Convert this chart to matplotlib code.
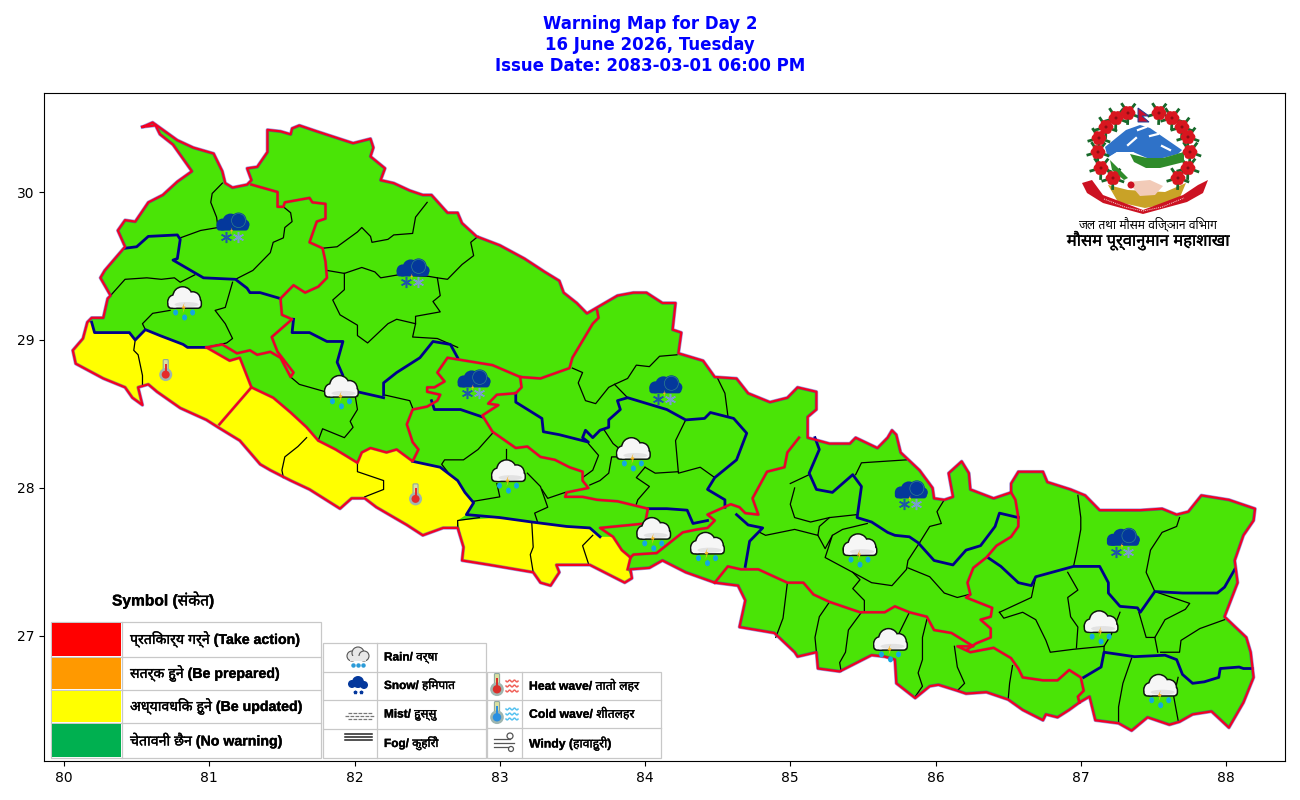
import matplotlib
matplotlib.use("Agg")
import matplotlib.pyplot as plt
import matplotlib.patheffects as pe
from matplotlib.patches import Polygon, Rectangle, Ellipse, Circle, FancyBboxPatch
import numpy as np

# map geometry in lon/lat
NEPAL = [(80.54,30.44),(80.61,30.47),(80.78,30.35),(80.89,30.30),(81.03,30.26),(81.09,30.14),(81.11,30.06),(81.16,30.03),
(81.26,30.05),(81.29,30.08),(81.26,30.16),(81.33,30.17),(81.40,30.27),(81.40,30.42),(81.49,30.41),(81.56,30.39),(81.57,30.43),
(81.62,30.45),(81.74,30.41),(81.99,30.33),(82.11,30.36),(82.13,30.30),(82.11,30.24),(82.21,30.16),(82.18,30.08),(82.27,30.06),
(82.38,30.01),(82.47,29.98),(82.53,29.98),(82.64,29.86),(82.71,29.86),(82.74,29.79),(82.84,29.70),(83.00,29.64),(83.17,29.55),
(83.31,29.46),(83.41,29.40),(83.44,29.32),(83.53,29.25),(83.60,29.18),(83.67,29.22),(83.81,29.30),(83.92,29.32),(84.01,29.32),
(84.12,29.25),(84.21,29.25),(84.19,29.07),(84.25,29.05),(84.23,28.91),(84.40,28.86),(84.48,28.75),(84.63,28.74),(84.71,28.64),
(84.86,28.58),(84.98,28.61),(85.05,28.68),(85.18,28.65),(85.18,28.53),(85.12,28.48),(85.12,28.34),(85.27,28.30),(85.41,28.30),
(85.45,28.34),(85.60,28.27),(85.67,28.34),(85.70,28.39),(85.73,28.36),(85.76,28.24),(85.89,28.12),(85.98,28.00),(85.99,27.93),
(86.06,27.92),(86.12,27.94),(86.09,28.10),(86.18,28.18),(86.23,28.10),(86.24,27.99),(86.40,27.93),(86.52,27.97),(86.52,28.03),
(86.57,28.11),(86.74,28.11),(86.77,28.04),(86.93,27.99),(87.03,27.95),(87.13,27.85),(87.24,27.85),(87.41,27.85),(87.56,27.86),
(87.66,27.82),(87.74,27.84),(87.83,27.95),(88.02,27.92),(88.20,27.86),(88.19,27.78),(88.12,27.68),(88.06,27.51),(88.08,27.36),
(87.99,27.13),(88.14,26.99),(88.17,26.89),(88.19,26.72),(88.12,26.55),(88.02,26.38),(87.90,26.49),(87.77,26.47),(87.68,26.42),
(87.61,26.40),(87.46,26.45),(87.35,26.36),(87.26,26.41),(87.10,26.43),(87.06,26.59),(86.99,26.55),(86.92,26.50),(86.84,26.45),
(86.76,26.47),(86.74,26.43),(86.60,26.50),(86.50,26.57),(86.35,26.62),(86.21,26.61),(86.15,26.63),(86.02,26.67),(85.96,26.66),
(85.86,26.58),(85.73,26.68),(85.72,26.84),(85.65,26.86),(85.56,26.87),(85.34,26.76),(85.19,26.78),(85.18,26.89),(85.05,26.86),
(85.03,26.89),(84.89,27.02),(84.65,27.06),(84.69,27.24),(84.64,27.34),(84.48,27.36),(84.28,27.43),(84.12,27.51),(84.03,27.46),
(83.90,27.45),(83.91,27.39),(83.86,27.36),(83.62,27.48),(83.39,27.48),(83.41,27.43),(83.35,27.34),(83.28,27.36),(83.23,27.43),
(82.93,27.48),(82.74,27.51),(82.75,27.60),(82.71,27.73),(82.61,27.73),(82.47,27.68),(82.36,27.75),(82.15,27.87),(82.07,27.93),
(81.98,27.93),(81.90,27.86),(81.69,27.99),(81.56,28.05),(81.42,28.12),(81.35,28.16),(81.21,28.32),(81.06,28.41),(80.98,28.46),
(80.80,28.54),(80.64,28.65),(80.58,28.70),(80.51,28.68),(80.54,28.56),(80.47,28.61),(80.42,28.68),(80.27,28.74),(80.08,28.84),
(80.06,28.93),(80.13,29.01),(80.16,29.12),(80.19,29.15),(80.27,29.15),(80.30,29.28),(80.32,29.30),(80.25,29.42),(80.28,29.47),
(80.35,29.55),(80.42,29.63),(80.37,29.74),(80.42,29.81),(80.49,29.80),(80.58,29.93),(80.68,29.98),(80.78,30.07),(80.88,30.14),
(80.75,30.32),(80.66,30.39),(80.63,30.45)]

YELLOW_WEST = [(80.19,29.12),(80.21,29.05),(80.45,29.05),(80.49,29.00),(80.56,29.07),(80.66,29.03),(80.82,28.97),(80.85,28.95),
(80.98,28.95),(81.14,28.86),(81.21,28.88),(81.29,28.68),(81.07,28.43),(81.06,28.41),(80.98,28.46),(80.80,28.54),(80.64,28.65),
(80.58,28.70),(80.51,28.68),(80.54,28.56),(80.47,28.61),(80.42,28.68),(80.27,28.74),(80.08,28.84),(80.06,28.93),(80.13,29.01),(80.16,29.12)]
YELLOW_MID = [(81.29,28.68),(81.44,28.61),(81.56,28.51),(81.67,28.41),(81.75,28.32),(81.87,28.26),(82.02,28.17),(82.05,28.24),
(82.11,28.27),(82.22,28.24),(82.29,28.26),(82.40,28.18),(82.59,28.14),(82.71,28.05),(82.76,27.97),(82.82,27.90),(82.77,27.82),
(82.71,27.78),(82.71,27.73),(82.61,27.73),(82.47,27.68),(82.36,27.75),(82.15,27.87),(82.07,27.93),(81.98,27.93),(81.90,27.86),
(81.69,27.99),(81.56,28.05),(81.42,28.12),(81.35,28.16),(81.21,28.32),(81.06,28.41),(81.07,28.43)]
YELLOW_EAST = [(82.71,27.78),(83.00,27.80),(83.22,27.77),(83.46,27.74),(83.62,27.73),(83.69,27.67),(83.78,27.67),(83.84,27.58),
(83.90,27.53),(83.88,27.45),(83.91,27.39),(83.86,27.36),(83.62,27.48),(83.39,27.48),(83.41,27.43),(83.35,27.34),(83.28,27.36),
(83.23,27.43),(82.93,27.48),(82.74,27.51),(82.75,27.60)]

RED_LINES = [
[(81.29,30.05),(81.47,30.00),(81.47,29.90),(81.51,29.90),(81.52,29.93),(81.69,29.96),(81.71,29.93),(81.80,29.92),(81.80,29.82),
 (81.74,29.80),(81.69,29.66),(81.78,29.62),(81.80,29.53),(81.81,29.42),(81.75,29.36),(81.66,29.32),(81.58,29.37),(81.49,29.28),
 (81.50,29.17),(81.57,29.14),(81.43,29.02),(81.47,28.92),(81.58,28.78),(81.56,28.75),(81.49,28.88),(81.42,28.92),(81.33,28.90),
 (81.28,28.93),(81.19,28.91),(81.09,28.97),(80.98,28.95)],
[(80.98,28.95),(81.14,28.86),(81.21,28.88),(81.29,28.68),(81.07,28.43)],
[(81.29,28.68),(81.44,28.61),(81.56,28.51),(81.67,28.41),(81.75,28.32),(81.87,28.26),(82.02,28.17),(82.05,28.24),(82.11,28.27),
 (82.22,28.24),(82.29,28.26),(82.40,28.18),(82.44,28.26),(82.40,28.31),(82.36,28.43),(82.40,28.53),(82.50,28.55),(82.57,28.59),
 (82.59,28.63),(82.50,28.65),(82.50,28.68),(82.55,28.68),(82.62,28.72),(82.57,28.78),(82.64,28.88),(82.95,28.83),(83.14,28.75),
 (83.28,28.74),(83.48,28.81),(83.50,28.88),(83.64,29.11),(83.68,29.15),(83.67,29.20)],
[(83.14,28.75),(83.15,28.68),(83.11,28.64),(82.98,28.63),(82.92,28.57),(82.99,28.56),(82.88,28.49),(82.95,28.38),(83.11,28.27),
 (83.19,28.28),(83.28,28.21),(83.38,28.19),(83.48,28.14),(83.57,28.11),(83.57,28.05),(83.61,28.00),(83.46,27.97),(83.45,27.94),
 (83.57,27.94),(83.67,27.92),(83.81,27.91),(84.02,27.86),(84.00,27.76),(83.90,27.75),(83.69,27.73),(83.78,27.67),(83.84,27.58),
 (83.90,27.53),(83.88,27.45)],
[(83.90,27.53),(83.92,27.55),(84.08,27.56),(84.17,27.63),(84.26,27.70),(84.36,27.72),(84.43,27.73),(84.48,27.78),(84.43,27.82),
 (84.59,27.89),(84.65,27.87),(84.69,27.83),(84.78,27.82),(84.74,27.93),(84.84,28.11),(84.96,28.14),(84.98,28.24),(85.06,28.34)],
[(84.48,27.36),(84.57,27.47),(84.66,27.45),(84.78,27.45),(84.98,27.36),(85.09,27.36),(85.16,27.28),(85.27,27.23),(85.48,27.16),
 (85.65,27.16),(85.72,27.20),(85.82,27.16),(85.94,27.13),(85.99,27.04),(86.11,27.02),(86.26,26.93),(86.15,26.93),(86.24,26.89),
 (86.40,26.92),(86.52,26.85),(86.57,26.78),(86.60,26.72),(86.74,26.70),(86.84,26.70),(86.92,26.77),(87.00,26.72),(87.02,26.63),
 (86.98,26.59),(86.99,26.55)],
[(86.52,27.97),(86.55,27.92),(86.57,27.80),(86.57,27.74),(86.52,27.67),(86.42,27.61),(86.35,27.53),(86.26,27.46),(86.22,27.36),
 (86.24,27.28),(86.21,27.26),(86.39,27.19),(86.38,27.13),(86.31,27.11),(86.38,27.05),(86.38,26.99),(86.28,26.95),(86.22,26.91)],
]

BLUE_LINES = [
[(88.18,26.78),(88.12,26.78),(88.09,26.79),(87.96,26.78),(87.95,26.72),(87.85,26.69),(87.77,26.68),(87.70,26.74),(87.66,26.84),
 (87.58,26.87),(87.37,26.86),(87.16,26.89),(87.14,26.79),(87.02,26.72)],
[(88.06,27.45),(87.99,27.33),(87.94,27.29),(87.70,27.29),(87.51,27.30),(87.41,27.16),(87.39,27.19),(87.27,27.20),(87.19,27.29),
 (87.19,27.36),(87.13,27.47),(86.95,27.47),(86.69,27.40),(86.66,27.34),(86.57,27.36),(86.45,27.47),(86.36,27.53)],
[(86.57,27.80),(86.44,27.83),(86.41,27.74),(86.31,27.61),(86.21,27.58),(86.12,27.48),(85.99,27.51),(85.88,27.63),(85.82,27.67),
 (85.72,27.68),(85.67,27.70),(85.56,27.77),(85.46,27.80),(85.49,28.01),(85.43,28.09),(85.29,27.97),(85.18,27.99),(85.13,28.10),
 (85.20,28.26),(85.17,28.34)],
[(84.63,27.82),(84.71,27.75),(84.81,27.73),(84.72,27.64),(84.69,27.47)],
[(84.02,27.86),(84.15,27.86),(84.29,27.85),(84.33,27.76),(84.43,27.78)],
[(84.55,27.87),(84.55,27.92),(84.43,27.99),(84.48,28.07),(84.63,28.19),(84.70,28.37),(84.61,28.47),(84.45,28.51),(84.41,28.47),
 (84.28,28.46),(84.15,28.53),(83.88,28.61),(83.81,28.59),(83.83,28.53),(83.75,28.46),(83.75,28.41),(83.69,28.39),(83.64,28.34),
 (83.59,28.39),(83.57,28.34),(83.61,28.31),(83.41,28.36),(83.30,28.38),(83.29,28.47),(83.11,28.58),(83.11,28.64)],
[(82.20,28.63),(82.20,28.71),(82.29,28.78),(82.45,28.88),(82.54,28.99),(82.66,28.97),(82.71,28.88)],
[(81.58,29.14),(81.57,29.05),(81.69,29.05),(81.81,28.99),(81.92,28.99),(81.88,28.85),(81.92,28.76),(81.88,28.74),(82.02,28.65),(82.20,28.61)],
[(80.19,29.12),(80.21,29.05),(80.45,29.05),(80.49,29.00),(80.56,29.07),(80.66,29.03),(80.82,28.97),(80.85,28.95),(80.98,28.95)],
[(80.42,29.62),(80.50,29.63),(80.58,29.70),(80.78,29.71),(80.80,29.68),(80.78,29.55),(80.75,29.54),(80.89,29.46),(80.96,29.42),
 (81.18,29.41),(81.26,29.35),(81.28,29.32),(81.35,29.32),(81.49,29.28)],
[(82.53,28.59),(82.55,28.53),(82.73,28.53),(82.88,28.48)],
[(82.40,28.18),(82.59,28.14),(82.71,28.05),(82.76,27.97),(82.82,27.90),(82.77,27.82),(83.00,27.80),(83.22,27.77),(83.46,27.74),(83.62,27.73),(83.69,27.67)],
]

BLACK_LINES = [
[(81.09,30.06),(81.02,29.99),(81.01,29.93),(81.05,29.83),(81.06,29.76)],
[(80.80,29.69),(80.94,29.74),(81.06,29.76)],
[(81.18,29.41),(81.30,29.47),(81.42,29.59),(81.44,29.66),(81.51,29.69),(81.52,29.76),(81.57,29.80),(81.56,29.86),(81.51,29.90)],
[(81.78,29.62),(81.88,29.63),(82.02,29.73),(82.05,29.76),(82.11,29.70),(82.12,29.66),(82.23,29.68),(82.27,29.71),(82.40,29.72),(82.42,29.83),(82.46,29.88),(82.50,29.93)],
[(81.81,29.47),(81.93,29.45),(82.05,29.49),(82.14,29.46),(82.18,29.42),(82.30,29.44),(82.51,29.43),(82.57,29.42),(82.64,29.41),(82.74,29.51),(82.82,29.57),(82.80,29.66),(82.85,29.70)],
[(81.93,29.45),(81.93,29.34),(81.85,29.27),(81.90,29.17),(82.02,29.10),(82.02,29.03),(82.09,28.98),(82.23,29.11),(82.29,29.14),(82.42,29.11),(82.40,29.02),(82.57,29.01),(82.71,28.95)],
[(82.57,29.42),(82.59,29.30),(82.54,29.26),(82.59,29.19),(82.42,29.16),(82.42,29.11)],
[(80.32,29.30),(80.42,29.41),(80.57,29.42),(80.67,29.41),(80.76,29.42),(80.80,29.39),(80.90,29.44)],
[(80.56,29.07),(80.54,29.11),(80.61,29.18),(80.73,29.20)],
[(81.16,29.39),(81.11,29.22),(81.04,29.20),(81.11,29.11),(81.16,29.01),(81.12,28.98),(80.98,28.95)],
[(80.49,29.00),(80.48,28.93),(80.51,28.90),(80.54,28.76),(80.54,28.70)],
[(81.56,28.75),(81.62,28.70),(81.80,28.65)],
[(82.00,28.65),(82.02,28.53),(81.97,28.45),(81.99,28.41),(81.93,28.34),(81.78,28.40),(81.75,28.32)],
[(82.20,28.63),(82.38,28.59),(82.40,28.54)],
[(84.50,28.74),(84.55,28.64),(84.57,28.49)],
[(83.50,28.81),(83.57,28.78),(83.54,28.71),(83.59,28.59),(83.66,28.57),(83.75,28.68),(83.79,28.70),(83.88,28.74),(83.94,28.83),(84.03,28.82),(84.10,28.89),(84.22,28.90)],
[(83.79,28.70),(83.88,28.61)],
[(83.72,28.39),(83.78,28.30),(83.83,28.26)],
[(84.28,28.46),(84.21,28.32),(84.23,28.10),(84.38,28.14),(84.48,28.07)],
[(84.00,28.14),(84.07,28.10),(84.23,28.11)],
[(83.83,28.21),(83.77,28.21),(83.75,28.10),(83.69,28.05),(83.62,28.02)],
[(84.00,28.14),(83.94,28.07),(84.03,28.01),(83.95,27.92),(83.94,27.89)],
[(83.61,28.30),(83.68,28.22),(83.64,28.12),(83.57,28.07)],
[(82.95,28.37),(82.85,28.26),(82.75,28.19),(82.62,28.19),(82.60,28.16),(82.64,28.11)],
[(83.04,28.26),(83.04,28.18)],
[(83.19,28.10),(83.28,28.01),(83.33,27.87),(83.24,27.83),(83.26,27.77)],
[(82.98,28.03),(83.00,27.94),(82.82,27.91)],
[(83.29,27.99),(83.33,27.93),(83.45,27.97)],
[(83.22,27.77),(83.23,27.60),(83.21,27.55),(83.23,27.43)],
[(83.64,27.68),(83.57,27.61),(83.61,27.49)],
[(81.67,28.34),(81.61,28.28),(81.52,28.21),(81.50,28.12),(81.51,28.07)],
[(82.02,28.17),(82.02,28.11),(82.20,28.05),(82.20,27.99),(82.07,27.94)],
[(82.71,27.73),(82.71,27.78),(82.86,27.80)],
[(85.00,28.03),(85.13,28.09)],
[(85.03,28.00),(85.00,27.89),(85.03,27.80),(85.14,27.77),(85.27,27.80),(85.46,27.82)],
[(85.45,28.09),(85.49,28.17),(85.80,28.19)],
[(84.79,27.70),(84.83,27.68),(85.03,27.72),(85.19,27.68),(85.20,27.74),(85.27,27.80)],
[(85.19,27.68),(85.24,27.59),(85.29,27.68),(85.24,27.53),(85.43,27.43),(85.48,27.38),(85.43,27.32),(85.51,27.24),(85.51,27.16)],
[(85.29,27.68),(85.36,27.72),(85.53,27.76)],
[(85.43,27.43),(85.56,27.36),(85.70,27.34),(85.80,27.45),(85.81,27.51),(85.89,27.63)],
[(85.81,27.46),(85.96,27.40),(86.06,27.29),(86.15,27.26),(86.23,27.28)],
[(85.89,27.63),(85.96,27.74),(86.04,27.76),(86.01,27.84),(86.06,27.92)],
[(84.98,27.36),(84.95,27.12),(84.90,26.99)],
[(85.27,27.23),(85.20,27.13),(85.17,26.99),(85.18,26.89)],
[(85.49,27.16),(85.40,27.04),(85.38,26.89),(85.34,26.82),(85.35,26.76)],
[(85.82,27.16),(85.75,27.02)],
[(85.94,27.11),(85.91,26.99),(85.91,26.84),(85.88,26.75),(85.91,26.66),(85.86,26.59)],
[(86.13,26.93),(86.15,26.79),(86.20,26.68),(86.15,26.63)],
[(86.53,26.80),(86.51,26.68),(86.50,26.57)],
[(86.44,27.16),(86.47,27.12),(86.60,27.16),(86.69,27.11),(86.76,26.97),(86.79,26.89),(86.95,26.91),(87.16,26.93),(87.16,26.89)],
[(86.44,27.16),(86.66,27.26),(86.69,27.40)],
[(86.91,27.43),(86.98,27.31),(86.91,27.26),(86.93,27.13),(86.98,27.06),(86.97,26.92)],
[(86.98,27.95),(87.00,27.80),(87.00,27.72),(86.97,27.56),(86.95,27.47)],
[(87.68,27.80),(87.66,27.74),(87.56,27.70),(87.48,27.58),(87.45,27.43),(87.51,27.30)],
[(87.51,27.30),(87.75,27.22),(87.72,27.18),(87.58,27.11),(87.51,26.99)],
[(87.40,27.16),(87.45,26.99),(87.51,26.99),(87.53,26.89)],
[(87.27,27.16),(87.21,27.01),(87.16,26.93)],
[(87.99,27.11),(87.82,27.05),(87.69,26.97),(87.68,26.89),(87.55,26.89)],
[(87.35,26.85),(87.29,26.68),(87.26,26.52),(87.26,26.42)],
[(87.67,26.72),(87.64,26.59),(87.67,26.43)],
]

SNOW_POINTS = [(81.16,29.78),(82.40,29.47),(82.82,28.72),(84.14,28.68),(85.83,27.97),(87.29,27.65)]
RAIN_POINTS = [(80.83,29.26),(81.91,28.66),(83.06,28.09),(83.92,28.24),(84.06,27.70),(84.43,27.60),(85.48,27.59),(85.69,26.95),(87.14,27.07),(87.55,26.64)]
HEAT_POINTS = [(80.70,28.80),(82.42,27.96)]

TITLE = "Warning Map for Day 2\n16 June 2026, Tuesday\nIssue Date: 2083-03-01 06:00 PM"
X_TICKS = [80, 81, 82, 83, 84, 85, 86, 87, 88]
Y_TICKS = [27, 28, 29, 30]
WARNING_LABELS = ["प्रतिकार्य गर्ने (Take action)", "सतर्क हुने (Be prepared)", "अध्यावधिक हुने (Be updated)", "चेतावनी छैन (No warning)"]
WARNING_COLORS = ["#ff0000", "#ff9900", "#ffff00", "#00b050"]
WEATHER_LABELS = ["Rain/ वर्षा", "Snow/ हिमपात", "Mist/ हुस्सु", "Fog/ कुहिरो"]
HAZARD_LABELS = ["Heat wave/ तातो लहर", "Cold wave/ शीतलहर", "Windy (हावाहुरी)"]

GREEN = "#4ae406"
YELLOW = "#ffff00"
RED = "#f20024"
HALO = "#3b2fc0"
NAVY = "#00008b"
GRID = "#c8c8c8"
HINDI = ["Liberation Sans", "Noto Sans", "Noto Sans Devanagari", "DejaVu Sans"]
HEAVY = [pe.withStroke(linewidth=0.25, foreground="black")]

fig = plt.figure(figsize=(13, 8), dpi=100)
ax = fig.add_axes([44/1300, 39/800, 1241/1300, 668/800])
ax.set_xlim(79.862, 88.406)
ax.set_ylim(26.155, 30.669)
ax.set_xticks(X_TICKS)
ax.set_yticks(Y_TICKS)
ax.tick_params(labelsize=10)
fig.text(650/1300, 1-45/800, TITLE, color="blue", fontsize=12, fontweight="bold", ha="center", va="center", linespacing=1.2)

ax.add_patch(Polygon(NEPAL, closed=True, fc=GREEN, ec="none", zorder=1))
for poly in (YELLOW_WEST, YELLOW_MID, YELLOW_EAST):
    ax.add_patch(Polygon(poly, closed=True, fc=YELLOW, ec="none", zorder=2))

for line in BLACK_LINES:
    xs, ys = zip(*line)
    ax.plot(xs, ys, color="black", lw=0.9, zorder=3)
for line in BLUE_LINES:
    xs, ys = zip(*line)
    ax.plot(xs, ys, color=NAVY, lw=2.0, zorder=4)
for line in RED_LINES:
    xs, ys = zip(*line)
    ax.plot(xs, ys, color=HALO, lw=2.3, zorder=5, alpha=0.35)
    ax.plot(xs, ys, color=RED, lw=1.7, zorder=6)
xs, ys = zip(*(NEPAL + NEPAL[:1]))
ax.plot(xs, ys, color=HALO, lw=2.5, zorder=5, alpha=0.5)
ax.plot(xs, ys, color=RED, lw=1.6, zorder=6)

# overlay in figure pixels for icons, legend and emblem
ov = fig.add_axes([0, 0, 1, 1], zorder=10)
ov.set_xlim(0, 1300)
ov.set_ylim(800, 0)
ov.axis("off")

def to_px(lon, lat):
    return ov.transData.inverted().transform(ax.transData.transform((lon, lat)))

def bolt(x, y, s=1.0):
    ov.add_patch(Polygon([(x+1*s, y-5*s), (x-2*s, y+1*s), (x, y+1*s), (x-1*s, y+6*s), (x+2*s, y-1*s), (x, y-1*s)], fc="#f5b31a", ec="none", zorder=13))

def cloud_shape(x, y, bumps, grow, color, z):
    for dx, dy, r in bumps:
        ov.add_patch(Circle((x+dx, y+dy), r+grow, fc=color, ec="none", zorder=z))
    ov.add_patch(FancyBboxPatch((x-13, y+1), 26, 2, boxstyle="round,pad=%.1f" % (3+grow), fc=color, ec="none", zorder=z))

def rain_cloud(x, y):
    bumps = [(-10, 0, 6), (-2, -5, 9), (8, -2, 7)]
    cloud_shape(x, y, bumps, 1.5, "#0d160d", 11)
    cloud_shape(x, y, bumps, 0, "#f6f6f6", 12)
    ov.add_patch(Ellipse((x+2, y+3), 24, 5, fc="#e2e2e2", ec="none", zorder=12))
    bolt(x-1, y+6)
    for dx, dy in [(-9, 11), (0, 16), (8, 11)]:
        ov.add_patch(Ellipse((x+dx, y+dy), 5, 6, fc="#12a8e0", ec="none", zorder=12))

def snow_cloud(x, y):
    bumps = [(-10, 0, 6), (-2, -3, 8), (6, -4, 8), (12, 0, 5)]
    cloud_shape(x, y, bumps, 0, "#04389c", 11)
    ov.add_patch(Circle((x+6, y-4), 7, fc="none", ec="#2f7f8a", lw=0.5, zorder=12))
    bolt(x-1, y+6, 0.7)
    ov.plot([x-7], [y+12], marker=(6, 2, 0), ms=8, mew=1.1, color="#1f56a8", zorder=12)
    ov.plot([x+5], [y+12], marker=(6, 2, 0), ms=8, mew=1.1, color="#7a9cd0", zorder=12)

def thermometer(x, y, c, s=1.0):
    ov.add_patch(FancyBboxPatch((x-1.5*s, y-9*s), 3*s, 12*s, boxstyle="round,pad=1", fc="#d9dfa0", ec="#8fa8a0", lw=0.8, zorder=12))
    ov.add_patch(Circle((x, y+5*s), 6.5*s, fc="#9fb6b0", ec="none", zorder=12))
    ov.add_patch(Circle((x, y+5*s), 4*s, fc=c, ec="none", zorder=13))
    ov.add_patch(Rectangle((x-1*s, y-6*s), 2*s, 11*s, fc=c, ec="none", zorder=13))

def waves(x, y, c):
    for dy in (-5, 0, 5):
        t = np.linspace(0, 12, 25)
        ov.plot(x+t, y+dy+0.9*np.sin(t*1.3), color=c, lw=1.1, zorder=13)

for lon, lat in SNOW_POINTS:
    snow_cloud(*to_px(lon, lat))
for lon, lat in RAIN_POINTS:
    rain_cloud(*to_px(lon, lat))
for lon, lat in HEAT_POINTS:
    thermometer(*to_px(lon, lat), "#e62a2a")

# legend tables
def table(x_cols, y_rows):
    ov.add_patch(Rectangle((x_cols[0], y_rows[0]), x_cols[-1]-x_cols[0], y_rows[-1]-y_rows[0], fc="white", ec=GRID, lw=0.9, zorder=11))
    for xc in x_cols[1:-1]:
        ov.plot([xc, xc], [y_rows[0], y_rows[-1]], color=GRID, lw=0.9, zorder=12)
    for yr in y_rows[1:-1]:
        ov.plot([x_cols[0], x_cols[-1]], [yr, yr], color=GRID, lw=0.9, zorder=12)

ov.text(112, 600, "Symbol (संकेत)", fontsize=11.2, fontweight="bold", family=HINDI, va="center", zorder=14, path_effects=HEAVY)
ys1 = [622, 657, 690, 723, 758]
table([51, 122, 321], ys1)
for i, lab in enumerate(WARNING_LABELS):
    ov.add_patch(Rectangle((52, ys1[i]+1), 69, ys1[i+1]-ys1[i]-2, fc=WARNING_COLORS[i], ec="none", zorder=13))
    ov.text(130, (ys1[i]+ys1[i+1])/2, lab, fontsize=10.2, fontweight="bold", family=HINDI, va="center", zorder=14, path_effects=HEAVY)
ys2 = [643, 672, 700, 729, 758]
table([323, 377, 486], ys2)
for i, lab in enumerate(WEATHER_LABELS):
    ov.text(384, (ys2[i]+ys2[i+1])/2, lab, fontsize=8.5, fontweight="bold", family=HINDI, va="center", zorder=14, path_effects=HEAVY)
ys3 = [672, 700, 728, 758]
table([487, 522, 661], ys3)
for i, lab in enumerate(HAZARD_LABELS):
    ov.text(529, (ys3[i]+ys3[i+1])/2, lab, fontsize=8.8, fontweight="bold", family=HINDI, va="center", zorder=14, path_effects=HEAVY)

# legend symbols
for dx, dy, r in [(-6, 0, 5), (0, -3, 6), (6, 0, 5)]:
    ov.add_patch(Circle((358+dx, 656+dy), r, fc="#e8e8e8", ec="#555555", lw=0.8, zorder=13))
ov.add_patch(Rectangle((350, 656), 16, 5, fc="#e8e8e8", ec="none", zorder=14))
for dx in (-5, 0, 5):
    ov.plot([358+dx], [665], marker="o", ms=2.2, color="#2c9bd8", zorder=14)
for dx, dy, r in [(-6, 0, 4), (0, -2, 6), (6, 1, 4)]:
    ov.add_patch(Circle((358+dx, 684+dy), r, fc="#04389c", ec="none", zorder=13))
ov.plot([355, 361], [692, 692], ls="none", marker="*", ms=2.5, color="#04389c", zorder=14)
for y0, x0, x1 in [(713, 348, 372), (716, 345, 375), (719, 348, 372)]:
    ov.plot([x0, x1], [y0, y0], color="#777777", lw=0.9, ls=(0, (3, 1)), zorder=13)
for y0 in (734, 737, 740):
    ov.plot([345, 372], [y0, y0], color="#222222", lw=1.1, zorder=13)
thermometer(497, 684, "#d9302a", 1.05)
waves(506, 686, "#f0625a")
thermometer(497, 712, "#2a8fe0", 1.05)
waves(506, 714, "#56c2f0")
for y0, x1 in [(739, 510), (743, 514), (747, 508)]:
    ov.plot([494, x1], [y0, y0], color="#555555", lw=0.9, zorder=13)
ov.add_patch(Circle((510, 736), 3, fc="none", ec="#555555", lw=0.9, zorder=13))
ov.add_patch(Circle((511, 749), 2.5, fc="none", ec="#555555", lw=0.9, zorder=13))

# emblem: wreath, mountain, hills, hands, ribbon, flag
ov.add_patch(Polygon([(1105, 147), (1126, 130), (1140, 125), (1150, 128), (1182, 150), (1178, 154), (1163, 158), (1147, 158), (1133, 152), (1117, 152), (1108, 158)], fc="#2f72c8", ec="none", zorder=11))
for x0, y0, x1, y1 in [(1128, 145, 1136, 138), (1138, 130, 1146, 127), (1150, 136, 1158, 134), (1162, 146, 1170, 150)]:
    ov.plot([x0, x1], [y0, y1], color="white", lw=1.6, zorder=12)
ov.add_patch(Polygon([(1107, 158), (1117, 152), (1133, 152), (1143, 160), (1133, 178), (1120, 172), (1112, 170)], fc="#ffffff", ec="none", zorder=11))
ov.add_patch(Polygon([(1130, 154), (1147, 158), (1163, 158), (1184, 152), (1184, 162), (1160, 168), (1146, 168), (1134, 162)], fc="#2f8b2a", ec="none", zorder=12))
ov.add_patch(Polygon([(1110, 160), (1118, 168), (1128, 178), (1124, 180), (1112, 170)], fc="#2f8b2a", ec="none", zorder=12))
ov.add_patch(Polygon([(1143, 168), (1164, 168), (1175, 182), (1150, 182)], fc="#ffffff", ec="none", zorder=11))
ov.add_patch(Polygon([(1108, 185), (1128, 190), (1165, 192), (1186, 183), (1178, 202), (1145, 208), (1118, 202)], fc="#c9a227", ec="none", zorder=11))
ov.add_patch(Polygon([(1128, 182), (1150, 180), (1163, 186), (1155, 195), (1140, 196)], fc="#f2cbb8", ec="none", zorder=12))
ov.add_patch(Circle((1131, 185), 3.5, fc="#cc1222", ec="none", zorder=13))
ov.add_patch(Polygon([(1082, 183), (1092, 180), (1103, 195), (1143, 210), (1183, 195), (1198, 185), (1208, 180), (1203, 193), (1187, 202), (1143, 214), (1103, 203), (1087, 193)], fc="#cc1222", ec="none", zorder=13))
ov.plot([1104, 1125, 1143, 1162, 1184], [199, 207, 211, 207, 198], color="#f5d8d8", lw=0.7, ls=(0, (1, 1)), zorder=14)
for x0, y0 in [(1128, 113), (1116, 118), (1106, 127), (1099, 138), (1098, 152), (1101, 168), (1113, 178),
               (1159, 113), (1172, 118), (1182, 127), (1188, 137), (1190, 152), (1188, 168), (1178, 178)]:
    for ang in (0, 72, 144, 216, 288):
        ov.plot([x0, x0+10.5*np.cos(np.radians(ang+20))], [y0, y0+10.5*np.sin(np.radians(ang+20))], color="#17682a", lw=2.0, zorder=11)
    for ang in (0, 60, 120, 180, 240, 300):
        ov.add_patch(Circle((x0+3.8*np.cos(np.radians(ang)), y0+3.8*np.sin(np.radians(ang))), 3.6, fc="#d8161f", ec="none", zorder=13))
    ov.add_patch(Circle((x0, y0), 1.5, fc="#8c0d14", ec="none", zorder=14))
ov.add_patch(Polygon([(1138, 108), (1149, 116), (1142, 116), (1149, 122), (1138, 122)], fc="#c8102e", ec="#1d3f94", lw=0.7, zorder=15))
ov.text(1147, 224, "जल तथा मौसम विज्ञान विभाग", fontsize=8.7, family=HINDI, ha="center", va="center", zorder=14)
ov.text(1148, 241, "मौसम पूर्वानुमान महाशाखा", fontsize=11.9, family=HINDI, ha="center", va="center", zorder=14, path_effects=HEAVY)

fig.savefig("out.png", dpi=100)
